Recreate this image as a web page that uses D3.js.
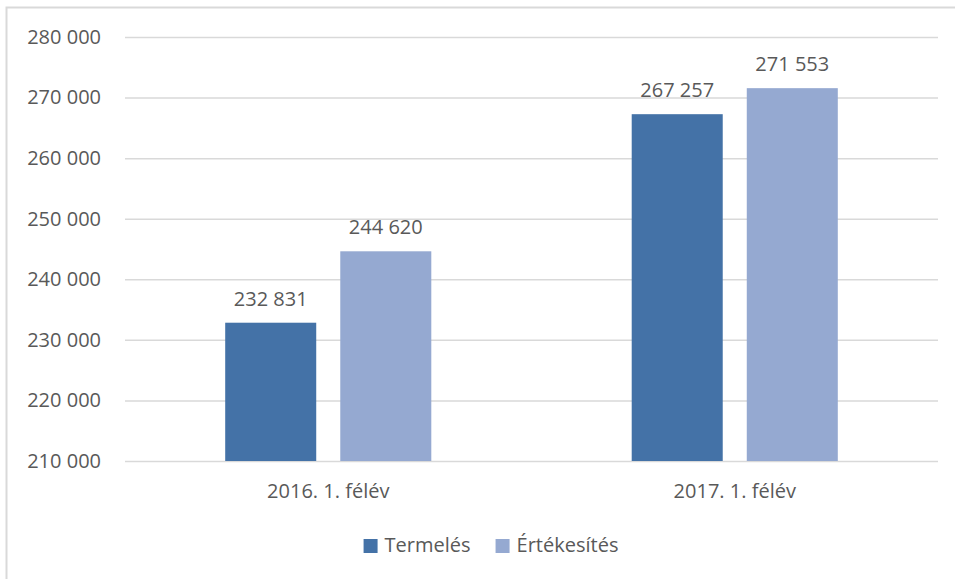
<!DOCTYPE html>
<html>
<head>
<meta charset="utf-8">
<script src="https://cdn.jsdelivr.net/npm/d3@7"></script>
<style>
  body { margin: 0; background: #fff; }
  text { font-family: "Open Sans", "Noto Sans", sans-serif; fill: #595959; }
</style>
</head>
<body>
<script>
const categories = ['2016. 1. félév', '2017. 1. félév'];
const seriesNames = ['Termelés', 'Értékesítés'];
const termeles = [232831, 267257];
const ertekesites = [244620, 271553];
const yTicks = [210000, 220000, 230000, 240000, 250000, 260000, 270000, 280000];
const colors = ['#4472a7', '#95a9d1'];

let width = 955, height = 579;
let margin = {top: 37, right: 17, bottom: 118, left: 125};

let hu = d3.formatLocale({decimal: ',', thousands: ' ', grouping: [3], currency: ['', '']});
let fmt = hu.format(',d');

let svg = d3.select('body').append('svg')
  .attr('width', width)
  .attr('height', height);

// chart frame (bottom and right fall outside the picture)
svg.append('rect')
  .attr('x', 6.5).attr('y', 7.5)
  .attr('width', 960).attr('height', 600)
  .attr('fill', 'none')
  .attr('stroke', '#d9d9d9')
  .attr('stroke-width', 2);

let x0 = d3.scaleBand()
  .domain(categories)
  .range([margin.left, width - margin.right]);

let groupW = x0.bandwidth() * 0.507;
let x1 = d3.scaleBand()
  .domain(seriesNames)
  .range([0, groupW])
  .paddingInner(0.209);

let y = d3.scaleLinear()
  .domain([210000, 280000])
  .range([height - margin.bottom, margin.top]);

// gridlines + y labels
let yAxis = d3.axisLeft(y).tickValues(yTicks).tickFormat(fmt)
  .tickSize(-(width - margin.left - margin.right)).tickPadding(24);
let gy = svg.append('g').attr('transform', 'translate(' + margin.left + ',0)').call(yAxis);
gy.select('.domain').remove();
gy.selectAll('.tick line').attr('stroke', '#d9d9d9').attr('stroke-width', 1.5);
gy.selectAll('.tick text').style('font-size', '20px').attr('fill', '#595959');

let data = categories.map((c, i) => ({cat: c, values: [
  {name: seriesNames[0], value: termeles[i]},
  {name: seriesNames[1], value: ertekesites[i]}
]}));

let groups = svg.selectAll('.grp')
  .data(data)
  .enter().append('g')
  .attr('transform', d => 'translate(' + (x0(d.cat) + (x0.bandwidth() - groupW) / 2) + ',0)');

groups.selectAll('rect')
  .data(d => d.values)
  .enter().append('rect')
  .attr('x', d => x1(d.name))
  .attr('y', d => y(d.value))
  .attr('width', x1.bandwidth())
  .attr('height', d => y(210000) - y(d.value))
  .attr('fill', (d, i) => colors[i]);

groups.selectAll('.val')
  .data(d => d.values)
  .enter().append('text')
  .attr('class', 'val')
  .attr('x', d => x1(d.name) + x1.bandwidth() / 2)
  .attr('y', d => y(d.value) - 17)
  .attr('text-anchor', 'middle')
  .style('font-size', '20px')
  .text(d => fmt(d.value));

// category labels
svg.selectAll('.cat')
  .data(categories)
  .enter().append('text')
  .attr('x', d => x0(d) + x0.bandwidth() / 2)
  .attr('y', 498)
  .attr('text-anchor', 'middle')
  .style('font-size', '20px')
  .text(d => d);

// legend
let legend = svg.append('g');
let lx = 0;
seriesNames.forEach((s, i) => {
  let item = legend.append('g').attr('transform', 'translate(' + lx + ',0)');
  item.append('rect').attr('x', 0).attr('y', 539).attr('width', 14).attr('height', 14).attr('fill', colors[i]);
  let t = item.append('text').attr('x', 21).attr('y', 552).style('font-size', '20px').text(s);
  lx += 21 + t.node().getComputedTextLength() + 25;
});
let lw = lx - 25;
legend.attr('transform', 'translate(' + (491 - lw / 2) + ',0)');
</script>
</body>
</html>
